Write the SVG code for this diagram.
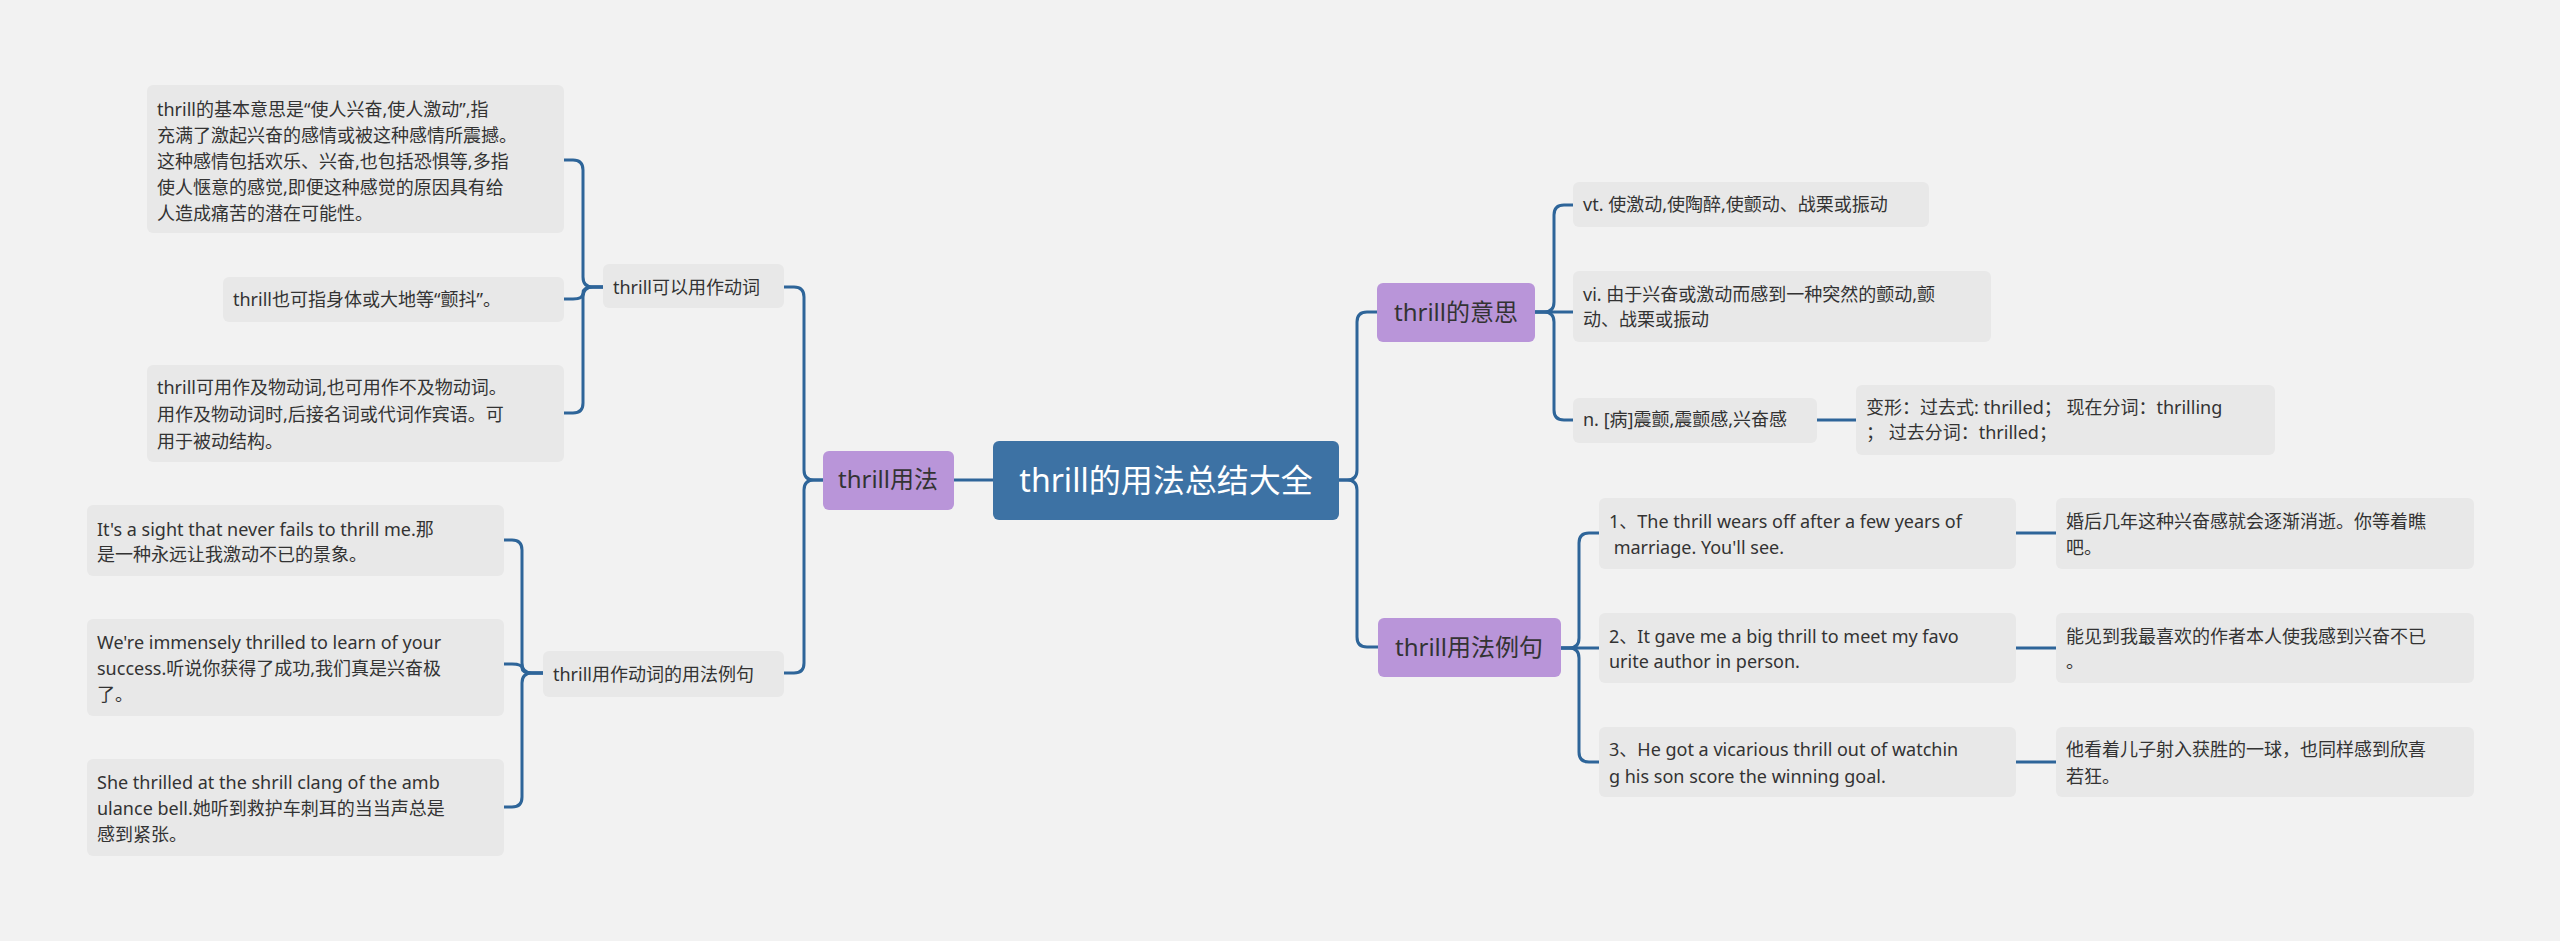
<svg xmlns="http://www.w3.org/2000/svg" width="2560" height="941" viewBox="0 0 2560 941">
<style>
.leaf{fill:#e8e8e8}
.sub{fill:#b995d9}
.t{font-family:"Noto Sans","Noto Sans CJK SC",sans-serif;font-size:18px;fill:#333}
.ts{font-family:"Noto Sans","Noto Sans CJK SC",sans-serif;font-size:24px;fill:#333}
.c{fill:none;stroke:#2e6599;stroke-width:3;stroke-linecap:round}
</style>
<rect width="2560" height="941" fill="#f2f2f2"/>
<g id="connectors" class="c">
<path d="M993 480H954"/>
<path d="M823 480H814Q804 480 804 470V297Q804 287 794 287H784"/>
<path d="M823 480H814Q804 480 804 490V663Q804 673 794 673H784"/>
<path d="M603 287H593Q583 287 583 277V170Q583 160 573 160H564"/>
<path d="M603 287H593Q583 287 583 293Q583 299 573 299H564"/>
<path d="M603 287H593Q583 287 583 297V403Q583 413 573 413H564"/>
<path d="M543 673H532Q522 673 522 663V550Q522 540 512 540H504"/>
<path d="M543 673H532Q522 673 522 668Q522 664 512 664H504"/>
<path d="M543 673H532Q522 673 522 683V797Q522 807 512 807H504"/>
<path d="M1339 480H1347Q1357 480 1357 470V322Q1357 312 1367 312H1377"/>
<path d="M1339 480H1347Q1357 480 1357 490V637Q1357 647 1367 647H1378"/>
<path d="M1535 312H1544Q1554 312 1554 302V215Q1554 205 1564 205H1573"/>
<path d="M1535 312H1573"/>
<path d="M1535 312H1544Q1554 312 1554 322V410Q1554 420 1564 420H1573"/>
<path d="M1817 420H1856"/>
<path d="M1561 648H1569Q1579 648 1579 638V543Q1579 533 1589 533H1599"/>
<path d="M1561 648H1599"/>
<path d="M1561 648H1569Q1579 648 1579 658V752Q1579 762 1589 762H1599"/>
<path d="M2016 533H2056"/>
<path d="M2016 648H2056"/>
<path d="M2016 762H2056"/>
</g>
<g id="root"><rect x="993" y="441" width="346" height="79" rx="6" fill="#3d72a4"/><text x="1166" y="492" text-anchor="middle" font-family="Noto Sans,Noto Sans CJK SC,sans-serif" font-size="32" fill="#fff">thrill的用法总结大全</text></g>
<g id="usage"><rect class="sub" x="823" y="451" width="131" height="59" rx="6"/><text class="ts" x="888" y="488" text-anchor="middle">thrill用法</text></g>
<g id="verb"><rect class="leaf" x="603" y="264" width="181" height="44" rx="6"/><text class="t" x="613" y="294">thrill可以用作动词</text></g>
<g id="a1"><rect class="leaf" x="147" y="85" width="417" height="148" rx="6"/><text class="t"><tspan x="157" y="116">thrill的基本意思是“使人兴奋,使人激动”,指</tspan><tspan x="157" y="142">充满了激起兴奋的感情或被这种感情所震撼。</tspan><tspan x="157" y="168">这种感情包括欢乐、兴奋,也包括恐惧等,多指</tspan><tspan x="157" y="194">使人惬意的感觉,即便这种感觉的原因具有给</tspan><tspan x="157" y="220">人造成痛苦的潜在可能性。</tspan></text></g>
<g id="a2"><rect class="leaf" x="223" y="277" width="341" height="45" rx="6"/><text class="t" x="233" y="306">thrill也可指身体或大地等“颤抖”。</text></g>
<g id="a3"><rect class="leaf" x="147" y="365" width="417" height="97" rx="6"/><text class="t"><tspan x="157" y="394">thrill可用作及物动词,也可用作不及物动词。</tspan><tspan x="157" y="421">用作及物动词时,后接名词或代词作宾语。可</tspan><tspan x="157" y="448">用于被动结构。</tspan></text></g>
<g id="examples"><rect class="leaf" x="543" y="651" width="241" height="46" rx="6"/><text class="t" x="553" y="681">thrill用作动词的用法例句</text></g>
<g id="b1"><rect class="leaf" x="87" y="505" width="417" height="71" rx="6"/><text class="t"><tspan x="97" y="536">It's a sight that never fails to thrill me.那</tspan><tspan x="97" y="561">是一种永远让我激动不已的景象。</tspan></text></g>
<g id="b2"><rect class="leaf" x="87" y="619" width="417" height="97" rx="6"/><text class="t"><tspan x="97" y="649">We're immensely thrilled to learn of your</tspan><tspan x="97" y="675">success.听说你获得了成功,我们真是兴奋极</tspan><tspan x="97" y="701">了。</tspan></text></g>
<g id="b3"><rect class="leaf" x="87" y="759" width="417" height="97" rx="6"/><text class="t"><tspan x="97" y="789">She thrilled at the shrill clang of the amb</tspan><tspan x="97" y="815">ulance bell.她听到救护车刺耳的当当声总是</tspan><tspan x="97" y="841">感到紧张。</tspan></text></g>
<g id="meaning"><rect class="sub" x="1377" y="283" width="158" height="59" rx="6"/><text class="ts" x="1456" y="321" text-anchor="middle">thrill的意思</text></g>
<g id="m1"><rect class="leaf" x="1573" y="182" width="356" height="45" rx="6"/><text class="t" x="1583" y="211">vt. 使激动,使陶醉,使颤动、战栗或振动</text></g>
<g id="m2"><rect class="leaf" x="1573" y="271" width="418" height="71" rx="6"/><text class="t"><tspan x="1583" y="301">vi. 由于兴奋或激动而感到一种突然的颤动,颤</tspan><tspan x="1583" y="326">动、战栗或振动</tspan></text></g>
<g id="m3"><rect class="leaf" x="1573" y="398" width="244" height="45" rx="6"/><text class="t" x="1583" y="426">n. [病]震颤,震颤感,兴奋感</text></g>
<g id="m4"><rect class="leaf" x="1856" y="385" width="419" height="70" rx="6"/><text class="t"><tspan x="1866" y="414">变形：过去式: thrilled；  现在分词：thrilling</tspan><tspan x="1866" y="439">；  过去分词：thrilled；</tspan></text></g>
<g id="sent"><rect class="sub" x="1378" y="618" width="183" height="59" rx="6"/><text class="ts" x="1469" y="656" text-anchor="middle">thrill用法例句</text></g>
<g id="s1"><rect class="leaf" x="1599" y="498" width="417" height="71" rx="6"/><text class="t"><tspan x="1609" y="528">1、The thrill wears off after a few years of</tspan><tspan x="1609" y="554"> marriage. You'll see.</tspan></text></g>
<g id="s2"><rect class="leaf" x="1599" y="613" width="417" height="70" rx="6"/><text class="t"><tspan x="1609" y="643">2、It gave me a big thrill to meet my favo</tspan><tspan x="1609" y="668">urite author in person.</tspan></text></g>
<g id="s3"><rect class="leaf" x="1599" y="727" width="417" height="70" rx="6"/><text class="t"><tspan x="1609" y="756">3、He got a vicarious thrill out of watchin</tspan><tspan x="1609" y="783">g his son score the winning goal.</tspan></text></g>
<g id="z1"><rect class="leaf" x="2056" y="498" width="418" height="71" rx="6"/><text class="t"><tspan x="2066" y="528">婚后几年这种兴奋感就会逐渐消逝。你等着瞧</tspan><tspan x="2066" y="554">吧。</tspan></text></g>
<g id="z2"><rect class="leaf" x="2056" y="613" width="418" height="70" rx="6"/><text class="t"><tspan x="2066" y="643">能见到我最喜欢的作者本人使我感到兴奋不已</tspan><tspan x="2066" y="668">。</tspan></text></g>
<g id="z3"><rect class="leaf" x="2056" y="727" width="418" height="70" rx="6"/><text class="t"><tspan x="2066" y="756">他看着儿子射入获胜的一球，也同样感到欣喜</tspan><tspan x="2066" y="783">若狂。</tspan></text></g>
</svg>
